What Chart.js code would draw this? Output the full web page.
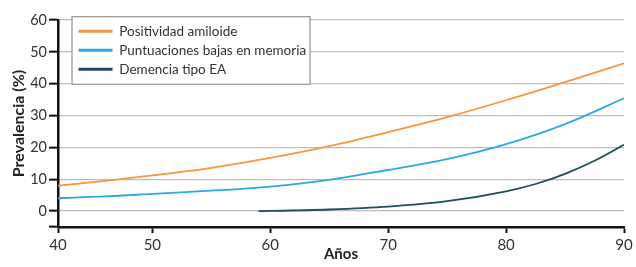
<!DOCTYPE html>
<html>
<head>
<meta charset="utf-8">
<script src="https://cdn.jsdelivr.net/npm/chart.js@4"></script>
<style>
html,body{margin:0;padding:0;background:#fff;}
#wrap{width:636px;height:267px;}
</style>
</head>
<body>
<div id="wrap"><canvas id="c" width="636" height="267"></canvas></div>
<script>
// ---- data ----
const ages = [40, 45, 50, 55, 60, 65, 70, 75, 80, 85, 90];
const amyloidPositivity = [8.0, 9.5, 11.2, 13.6, 16.7, 20.4, 24.8, 29.5, 34.8, 40.5, 46.4];
const lowMemoryScores = [4.1, 4.6, 5.4, 6.4, 7.7, 9.8, 12.9, 16.3, 21.0, 27.3, 35.4];
const dementiaAges = [59, 60, 65, 70, 75, 80, 82.5, 85, 87.5, 90];
const dementiaValues = [0.0, 0.05, 0.5, 1.4, 3.1, 6.2, 8.5, 11.7, 15.8, 20.8];
const seriesLabels = ['Positividad amiloide', 'Puntuaciones bajas en memoria', 'Demencia tipo EA'];
const seriesColors = ['#F7963C', '#2BAAE2', '#1E4D5C'];
const xTickValues = [40, 50, 60, 70, 80, 90];
const yTickValues = [-5, 0, 10, 20, 30, 40, 50, 60];
const xAxisTitle = 'Años';
const yAxisTitle = 'Prevalencia (%)';

// The reference draws the 40-50 span shorter than the other decades.
const BREAK_AT = 50, SQUEEZE = 0.8;
class CompressedLinearScale extends Chart.LinearScale {
  warp(v) { return v < BREAK_AT ? BREAK_AT - (BREAK_AT - v) * SQUEEZE : v; }
  unwarp(v) { return v < BREAK_AT ? BREAK_AT - (BREAK_AT - v) / SQUEEZE : v; }
  determineDataLimits() { super.determineDataLimits(); this.min = this.warp(this.min); }
  getPixelForValue(v) { return v === null ? NaN : super.getPixelForValue(this.warp(v)); }
  getValueForPixel(p) { return this.unwarp(super.getValueForPixel(p)); }
}
CompressedLinearScale.id = 'compressedLinear';
CompressedLinearScale.defaults = Chart.LinearScale.defaults;
Chart.register(CompressedLinearScale);

const legendFrame = {
  id: 'legendFrame',
  afterLayout(chart) {
    const lg = chart.legend, ca = chart.chartArea;
    lg.left = ca.left + 15;
    lg.top = ca.top - 1;
    lg.right = ca.right;
    lg.bottom = ca.bottom;
  },
  beforeDatasetsDraw(chart) {
    const ctx = chart.ctx, ca = chart.chartArea;
    ctx.save();
    ctx.fillStyle = '#ffffff';
    ctx.strokeStyle = '#9c9c9c';
    ctx.lineWidth = 1.3;
    ctx.fillRect(ca.left + 14, ca.top - 3.3, 238, 67.6);
    ctx.strokeRect(ca.left + 14, ca.top - 3.3, 238, 67.6);
    ctx.restore();
    chart.legend.draw();
  }
};

const series = (xs, ys, i) => ({
  label: seriesLabels[i],
  data: xs.map((x, k) => ({ x: x, y: ys[k] })),
  borderColor: seriesColors[i],
  backgroundColor: seriesColors[i],
  borderWidth: 1.8,
  pointRadius: 0,
  pointHoverRadius: 0,
  fill: false,
  cubicInterpolationMode: 'monotone'
});

new Chart(document.getElementById('c'), {
  type: 'line',
  data: {
    datasets: [
      series(ages, amyloidPositivity, 0),
      series(ages, lowMemoryScores, 1),
      series(dementiaAges, dementiaValues, 2)
    ]
  },
  options: {
    responsive: false,
    animation: false,
    devicePixelRatio: 1,
    layout: { padding: { left: 0, right: 12, top: 20, bottom: 0 } },
    plugins: {
      tooltip: { enabled: false },
      legend: {
        position: 'chartArea',
        align: 'start',
        labels: {
          usePointStyle: true,
          pointStyle: 'line',
          pointStyleWidth: 34,
          padding: 5.5,
          color: '#333',
          font: { family: 'Lato', size: 13.5 },
          generateLabels: (chart) => Chart.defaults.plugins.legend.labels.generateLabels(chart)
            .map(it => Object.assign(it, { lineWidth: 3, pointStyle: 'line' }))
        }
      }
    },
    scales: {
      x: {
        type: 'compressedLinear',
        min: 40, max: 90,
        bounds: 'data',
        afterBuildTicks: s => { s.ticks = xTickValues.map(v => ({ value: v })); },
        afterFit: s => { s.height = 40; },
        grid: { drawOnChartArea: false, drawTicks: true, tickLength: 6, tickColor: '#111', tickWidth: 2 },
        border: { display: true, color: '#111', width: 2.5 },
        ticks: { font: { family: 'Lato', size: 15 }, color: '#333', padding: 3, maxRotation: 0, autoSkip: false },
        title: { display: true, text: xAxisTitle, color: '#222', font: { family: 'Lato', size: 15, weight: 'bold' }, padding: { top: 0, bottom: 3.5 } }
      },
      y: {
        min: -5, max: 60,
        afterBuildTicks: s => { s.ticks = yTickValues.map(v => ({ value: v })); },
        afterFit: s => { s.width = 58; },
        grid: {
          color: c => (c.tick && c.tick.value < 0) ? 'rgba(0,0,0,0)' : '#bcbcbc',
          lineWidth: 1.3,
          drawTicks: true, tickLength: 9, tickColor: '#111', tickWidth: 2
        },
        border: { display: true, color: '#111', width: 2.5 },
        ticks: { callback: v => (v < 0 ? '' : v), font: { family: 'Lato', size: 14.5 }, color: '#333', padding: 2, autoSkip: false },
        title: { display: true, text: yAxisTitle, color: '#222', font: { family: 'Lato', size: 16, weight: 'bold' }, padding: { top: 9.7, bottom: 0 } }
      }
    }
  },
  plugins: [legendFrame]
});
</script>
</body>
</html>
